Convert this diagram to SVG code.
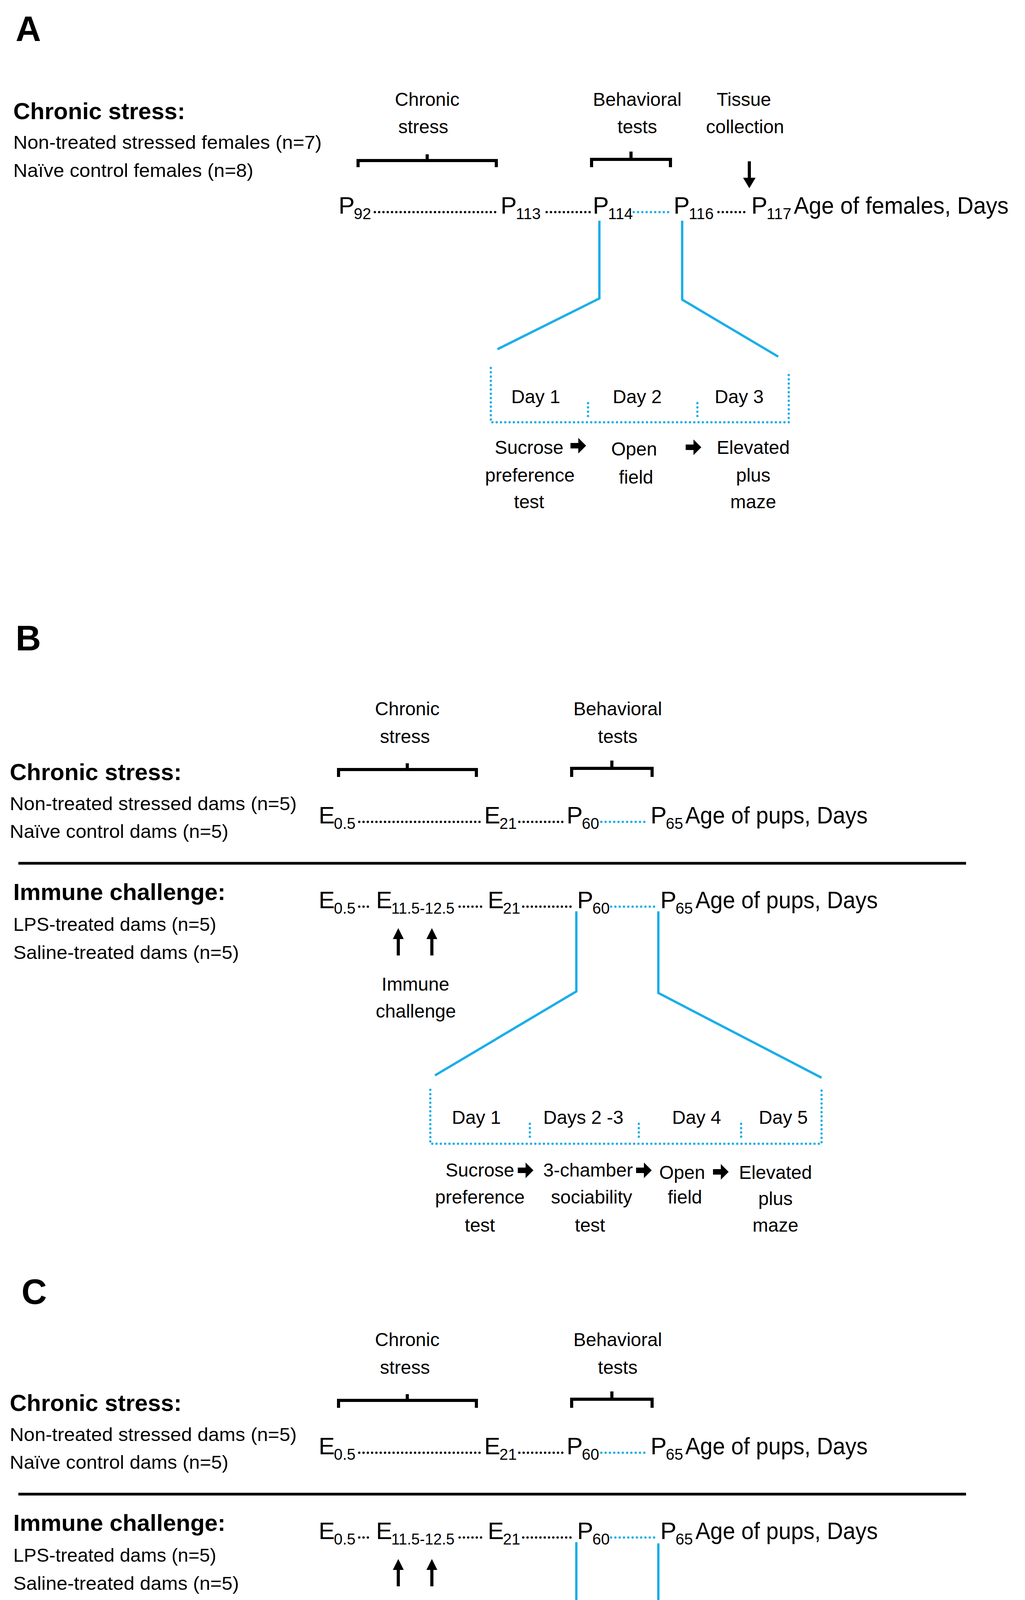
<svg xmlns="http://www.w3.org/2000/svg" xmlns:xlink="http://www.w3.org/1999/xlink" width="2625" height="4773" viewBox="0 0 2625 4773">
<style>
text{font-family:"Liberation Sans",Arial,sans-serif;fill:#000}
.t{font-size:48px}
.c{font-size:48px;text-anchor:middle}
.h{font-size:60px;font-weight:bold}
.L{font-size:90px;font-weight:bold}
.tl{font-size:62px}
.sb{font-size:40px}
.br{fill:none;stroke:#000;stroke-width:8}
.bl{fill:none;stroke:#1aaee8;stroke-width:6}
.bd{fill:none;stroke:#1aaee8;stroke-width:6;stroke-dasharray:0 11;stroke-linecap:round}
.kd{fill:none;stroke:#000;stroke-width:6;stroke-dasharray:0 11;stroke-linecap:round}
.sep{stroke:#000;stroke-width:7}
</style>
<defs>
<path id="ba" d="M-20,-7 L0,-7 L0,-20 L20,0 L0,20 L0,7 L-20,7 Z" fill="#000"/>
<path id="ua" d="M-4,60 L-4,18 L-14,18 L0,-10 L14,18 L4,18 L4,60 Z" fill="#000"/>
<g id="Btop">
<text class="c" x="1043" y="1831">Chronic</text>
<text class="c" x="1037" y="1902">stress</text>
<path class="br" d="M867,1989 V1970 H1220 V1989 M1043,1970 V1954"/>
<text class="c" x="1582" y="1831">Behavioral</text>
<text class="c" x="1582" y="1902">tests</text>
<path class="br" d="M1464,1989 V1967 H1670 V1989 M1567,1967 V1947"/>
<text class="h" x="25" y="1997">Chronic stress:</text>
<text class="t" x="25" y="2074" textLength="735" lengthAdjust="spacingAndGlyphs">Non-treated stressed dams (n=5)</text>
<text class="t" x="25" y="2145" textLength="560" lengthAdjust="spacingAndGlyphs">Naïve control dams (n=5)</text>
<text class="tl" x="816" y="2108">E</text><text class="sb" x="855" y="2122">0.5</text>
<line class="kd" x1="920" y1="2104" x2="1234" y2="2104"/>
<text class="tl" x="1240" y="2108">E</text><text class="sb" x="1279" y="2122">21</text>
<line class="kd" x1="1330" y1="2104" x2="1444" y2="2104"/>
<text class="tl" x="1451" y="2108">P</text><text class="sb" x="1490" y="2122">60</text>
<line class="bd" x1="1540" y1="2104" x2="1660" y2="2104"/>
<text class="tl" x="1666" y="2108">P</text><text class="sb" x="1705" y="2122">65</text>
<text class="tl" x="1755" y="2108" textLength="467" lengthAdjust="spacingAndGlyphs">Age of pups, Days</text>
<line class="sep" x1="47" y1="2210" x2="2474" y2="2210"/>
<text class="h" x="34" y="2304">Immune challenge:</text>
<text class="t" x="34" y="2383" textLength="520" lengthAdjust="spacingAndGlyphs">LPS-treated dams (n=5)</text>
<text class="t" x="34" y="2455" textLength="578" lengthAdjust="spacingAndGlyphs">Saline-treated dams (n=5)</text>
<text class="tl" x="816" y="2325">E</text><text class="sb" x="855" y="2339">0.5</text>
<line class="kd" x1="920" y1="2321" x2="945" y2="2321"/>
<text class="tl" x="963" y="2325">E</text><text class="sb" x="1002" y="2339" textLength="162" lengthAdjust="spacingAndGlyphs">11.5-12.5</text>
<line class="kd" x1="1177" y1="2321" x2="1243" y2="2321"/>
<text class="tl" x="1249" y="2325">E</text><text class="sb" x="1288" y="2339">21</text>
<line class="kd" x1="1340" y1="2321" x2="1471" y2="2321"/>
<text class="tl" x="1478" y="2325">P</text><text class="sb" x="1517" y="2339">60</text>
<line class="bd" x1="1565" y1="2321" x2="1686" y2="2321"/>
<text class="tl" x="1691" y="2325">P</text><text class="sb" x="1730" y="2339">65</text>
<text class="tl" x="1781" y="2325" textLength="467" lengthAdjust="spacingAndGlyphs">Age of pups, Days</text>
<use xlink:href="#ua" x="1020" y="2386"/>
<use xlink:href="#ua" x="1106" y="2386"/>
<text class="c" x="1064" y="2536">Immune</text>
<text class="c" x="1065" y="2605">challenge</text>
</g>
</defs>

<g id="panelA">
<text class="L" x="40" y="105">A</text>
<text class="h" x="34" y="305">Chronic stress:</text>
<text class="t" x="34" y="381" textLength="790" lengthAdjust="spacingAndGlyphs">Non-treated stressed females (n=7)</text>
<text class="t" x="34" y="453" textLength="615" lengthAdjust="spacingAndGlyphs">Naïve control females (n=8)</text>
<text class="c" x="1094" y="271">Chronic</text>
<text class="c" x="1084" y="341">stress</text>
<path class="br" d="M917,428 V411 H1271 V428 M1094,411 V395"/>
<text class="c" x="1632" y="271">Behavioral</text>
<text class="c" x="1632" y="341">tests</text>
<path class="br" d="M1515,428 V408 H1717 V428 M1616,408 V388"/>
<text class="c" x="1905" y="271">Tissue</text>
<text class="c" x="1908" y="341">collection</text>
<path d="M1915,413 V455 H1903 L1919,482 L1935,455 H1923 V413 Z" fill="#000"/>
<text class="tl" x="867" y="547">P</text><text class="sb" x="906" y="561">92</text>
<line class="kd" x1="960" y1="543" x2="1275" y2="543"/>
<text class="tl" x="1282" y="547">P</text><text class="sb" x="1321" y="561">113</text>
<line class="kd" x1="1400" y1="543" x2="1512" y2="543"/>
<text class="tl" x="1518" y="547">P</text><text class="sb" x="1557" y="561">114</text>
<line class="bd" x1="1623" y1="543" x2="1716" y2="543"/>
<text class="tl" x="1725" y="547">P</text><text class="sb" x="1764" y="561">116</text>
<line class="kd" x1="1840" y1="543" x2="1917" y2="543"/>
<text class="tl" x="1924" y="547">P</text><text class="sb" x="1963" y="561">117</text>
<text class="tl" x="2033" y="547" textLength="550" lengthAdjust="spacingAndGlyphs">Age of females, Days</text>
</g>
<g id="zoomA">
<path class="bl" d="M1535,565 V764 L1274,894 M1747,565 V767 L1993,913"/>
<path class="bd" d="M1257,942 V1081 H2020 V955 M1506,1032 V1067 M1786,1032 V1067"/>
<text class="c" x="1372" y="1032">Day 1</text>
<text class="c" x="1632" y="1032">Day 2</text>
<text class="c" x="1893" y="1032">Day 3</text>
<text class="c" x="1355" y="1162">Sucrose</text>
<text class="c" x="1357" y="1233">preference</text>
<text class="c" x="1355" y="1301">test</text>
<use xlink:href="#ba" x="1481" y="1141"/>
<text class="c" x="1624" y="1166">Open</text>
<text class="c" x="1629" y="1238">field</text>
<use xlink:href="#ba" x="1776" y="1145"/>
<text class="c" x="1929" y="1162">Elevated</text>
<text class="c" x="1929" y="1233">plus</text>
<text class="c" x="1929" y="1301">maze</text>
</g>

<g id="panelB">
<text class="L" x="40" y="1665">B</text>
<use xlink:href="#Btop"/>
</g>
<g id="zoomB">
<path class="bl" d="M1476,2333 V2538 L1114,2753 M1686,2333 V2542 L2104,2759"/>
<path class="bd" d="M1102,2790 V2928 H2104 V2785 M1357,2877 V2912 M1636,2877 V2912 M1898,2877 V2912"/>
<text class="c" x="1220" y="2877">Day 1</text>
<text class="c" x="1494" y="2877">Days 2 -3</text>
<text class="c" x="1784" y="2877">Day 4</text>
<text class="c" x="2006" y="2877">Day 5</text>
<text class="c" x="1229" y="3012">Sucrose</text>
<text class="c" x="1229" y="3081">preference</text>
<text class="c" x="1229" y="3153">test</text>
<use xlink:href="#ba" x="1346" y="2996"/>
<text class="c" x="1506" y="3012">3-chamber</text>
<text class="c" x="1515" y="3081">sociability</text>
<text class="c" x="1511" y="3153">test</text>
<use xlink:href="#ba" x="1649" y="2996"/>
<text class="c" x="1747" y="3018">Open</text>
<text class="c" x="1754" y="3081">field</text>
<use xlink:href="#ba" x="1846" y="3000"/>
<text class="c" x="1986" y="3018">Elevated</text>
<text class="c" x="1986" y="3085">plus</text>
<text class="c" x="1986" y="3153">maze</text>
</g>

<g id="panelC">
<text class="L" x="55" y="3338">C</text>
<use xlink:href="#Btop" y="1615"/>
</g>
<g id="zoomC">
<path class="bl" d="M1476,3948 V4155 L1114,4370 M1686,3951 V4158 L2104,4374"/>
<path class="bd" d="M1102,4407 V4543 H2104 V4402 M1898,4488 V4519"/>
<text class="c" x="1473" y="4490">Days 1-5</text>
<text class="c" x="2011" y="4490">Day  6</text>
<text class="c" x="1481" y="4634">Acquisition trials of</text>
<text class="c" x="1481" y="4704">Barnes maze</text>
<use xlink:href="#ba" x="1846" y="4614"/>
<text class="c" x="2016" y="4646">Probe</text>
<text class="c" x="2008" y="4714">trial</text>
</g>
</svg>
